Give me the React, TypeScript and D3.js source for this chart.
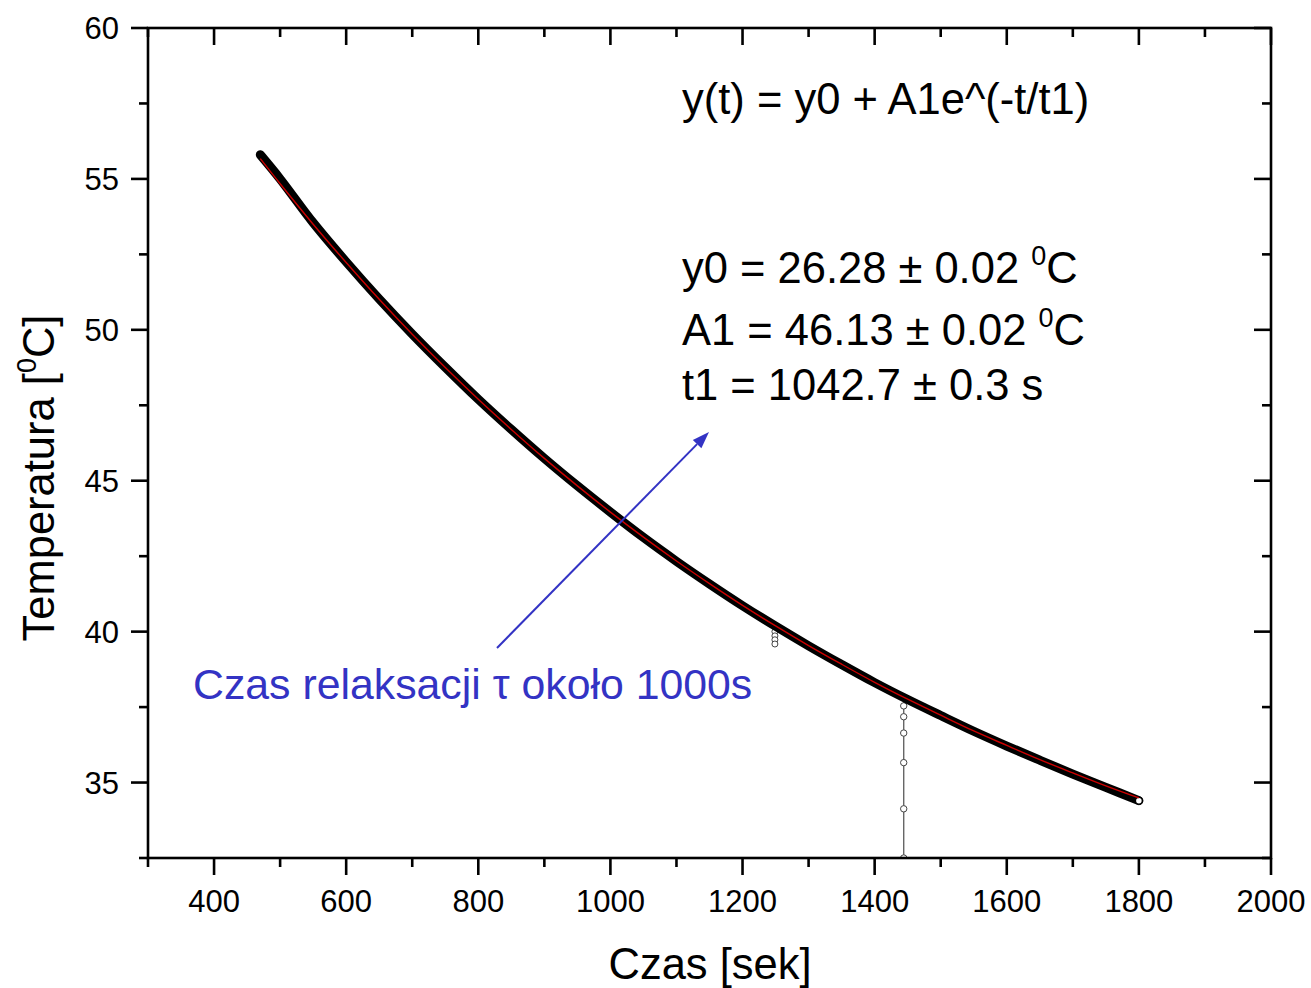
import React from 'react';
import * as d3 from 'd3';

const timeSec = [470, 500, 550, 600, 650, 700, 750, 800, 850, 900, 950, 1000, 1050, 1100, 1150, 1200, 1250, 1300, 1350, 1400, 1450, 1500, 1550, 1600, 1650, 1700, 1750, 1800];
const tempC = [55.8, 55.0, 53.55, 52.25, 51.02, 49.86, 48.76, 47.7, 46.7, 45.74, 44.83, 43.96, 43.12, 42.33, 41.58, 40.86, 40.18, 39.53, 38.91, 38.31, 37.75, 37.22, 36.7, 36.21, 35.74, 35.28, 34.84, 34.4];
// Fitted curve (red)
const fitTemp = [55.67, 54.84, 53.5, 52.23, 51.01, 49.85, 48.75, 47.7, 46.7, 45.74, 44.83, 43.96, 43.13, 42.34, 41.59, 40.87, 40.19, 39.54, 38.92, 38.32, 37.76, 37.23, 36.71, 36.23, 35.76, 35.32, 34.89, 34.49];

// Outlier excursions
const glitch1Time = 1249;
const glitch1Temps = [40.2, 40.0, 39.86, 39.73, 39.59];
const glitch2Time = 1444;
const glitch2Temps = [37.8, 37.54, 37.18, 36.64, 35.66, 34.13, 32.5, 30.5];

const xMajorTicks = [400, 600, 800, 1000, 1200, 1400, 1600, 1800, 2000];
const xMinorTicks = [300, 500, 700, 900, 1100, 1300, 1500, 1700, 1900];
const yMajorTicks = [35, 40, 45, 50, 55, 60];
const yMinorTicks = [32.5, 37.5, 42.5, 47.5, 52.5, 57.5];

const FONT = '"Liberation Sans", Arial, Helvetica, sans-serif';
const BLUE = '#3333c4';

export default function App() {
  const W = 1311, H = 988;
  const L = 148, R = 1271, T = 28, B = 858;
  const x = d3.scaleLinear().domain([300, 2000]).range([L, R]);
  const y = d3.scaleLinear().domain([32.5, 60]).range([B, T]);

  const pts: [number, number][] = timeSec.map((t, i) => [t, tempC[i]]);
  const fitPts: [number, number][] = timeSec.map((t, i) => [t, fitTemp[i]]);
  const line = d3.line<[number, number]>().x(d => x(d[0])).y(d => y(d[1])).curve(d3.curveCatmullRom);

  const major = 17, minor = 9;
  const axisW = 2.6;
  const TF = 43.5;

  // arrow geometry
  const ax1 = 497, ay1 = 648, ax2 = 709, ay2 = 432;
  const ang = Math.atan2(ay2 - ay1, ax2 - ax1);
  const hl = 17, hw = 6;
  const bx = ax2 - hl * Math.cos(ang), by = ay2 - hl * Math.sin(ang);
  const head = `${ax2},${ay2} ${bx + hw * Math.sin(ang)},${by - hw * Math.cos(ang)} ${bx - hw * Math.sin(ang)},${by + hw * Math.cos(ang)}`;

  return (
    <svg width={W} height={H} style={{ position: 'absolute', left: 0, top: 0, background: '#fff' }} fontFamily={FONT}>
      <defs>
        <clipPath id="plotclip">
          <rect x={L} y={T} width={R - L} height={B - T} />
        </clipPath>
      </defs>
      <rect x={0} y={0} width={W} height={H} fill="#fff" />

      {/* glitches */}
      <g clipPath="url(#plotclip)">
        <line x1={x(glitch1Time)} x2={x(glitch1Time)} y1={y(glitch1Temps[0])} y2={y(glitch1Temps[glitch1Temps.length - 1])} stroke="#666" strokeWidth={1.2} />
        {glitch1Temps.slice(1).map((v, i) => (
          <circle key={'g1' + i} cx={x(glitch1Time)} cy={y(v)} r={3} fill="#fff" stroke="#444" strokeWidth={1} />
        ))}
        <line x1={x(glitch2Time)} x2={x(glitch2Time)} y1={y(glitch2Temps[0])} y2={y(glitch2Temps[glitch2Temps.length - 1])} stroke="#666" strokeWidth={1.4} />
        {glitch2Temps.slice(1).map((v, i) => (
          <circle key={'g2' + i} cx={x(glitch2Time)} cy={y(v)} r={3.2} fill="#fff" stroke="#444" strokeWidth={1} />
        ))}
      </g>

      {/* measured data band */}
      <path d={line(pts) || ''} fill="none" stroke="#000" strokeWidth={9} strokeLinecap="round" strokeLinejoin="round" />
      <circle cx={x(timeSec[timeSec.length - 1])} cy={y(tempC[tempC.length - 1])} r={3.5} fill="#fff" stroke="#000" strokeWidth={1.5} />
      {/* fit */}
      <path d={line(fitPts) || ''} fill="none" stroke="#cc0000" strokeWidth={1.4} />

      {/* frame */}
      <rect x={L} y={T} width={R - L} height={B - T} fill="none" stroke="#000" strokeWidth={axisW} />

      {/* x ticks */}
      {xMajorTicks.map(t => (
        <g key={'xM' + t}>
          <line x1={x(t)} x2={x(t)} y1={B} y2={B + major} stroke="#000" strokeWidth={axisW} />
          <line x1={x(t)} x2={x(t)} y1={T} y2={T + major} stroke="#000" strokeWidth={axisW} />
          <text x={x(t)} y={912} fontSize={31} textAnchor="middle" fill="#000">{t}</text>
        </g>
      ))}
      {xMinorTicks.map(t => (
        <g key={'xm' + t}>
          <line x1={x(t)} x2={x(t)} y1={B} y2={B + minor} stroke="#000" strokeWidth={axisW} />
          <line x1={x(t)} x2={x(t)} y1={T} y2={T + minor} stroke="#000" strokeWidth={axisW} />
        </g>
      ))}

      {/* y ticks */}
      {yMajorTicks.map(v => (
        <g key={'yM' + v}>
          <line x1={L - major} x2={L} y1={y(v)} y2={y(v)} stroke="#000" strokeWidth={axisW} />
          <line x1={R - major} x2={R} y1={y(v)} y2={y(v)} stroke="#000" strokeWidth={axisW} />
          <text x={119} y={y(v)} dy="0.36em" fontSize={31} textAnchor="end" fill="#000">{v}</text>
        </g>
      ))}
      {yMinorTicks.map(v => (
        <g key={'ym' + v}>
          <line x1={L - minor} x2={L} y1={y(v)} y2={y(v)} stroke="#000" strokeWidth={axisW} />
          <line x1={R - minor} x2={R} y1={y(v)} y2={y(v)} stroke="#000" strokeWidth={axisW} />
        </g>
      ))}

      {/* axis titles */}
      <text x={710} y={979} fontSize={TF} textAnchor="middle" fill="#000">Czas [sek]</text>
      <text transform="translate(54,478) rotate(-90)" fontSize={TF} textAnchor="middle" fill="#000">
        Temperatura [<tspan fontSize={27} dy={-18}>0</tspan><tspan dy={18}>C]</tspan>
      </text>

      {/* equation and parameters */}
      <text x={682} y={114} fontSize={TF} fill="#000">y(t) = y0 + A1e^(-t/t1)</text>
      <text x={682} y={283} fontSize={TF} fill="#000">
        y0 = 26.28 ± 0.02 <tspan fontSize={27} dy={-18}>0</tspan><tspan dy={18}>C</tspan>
      </text>
      <text x={682} y={345} fontSize={TF} fill="#000">
        A1 = 46.13 ± 0.02 <tspan fontSize={27} dy={-18}>0</tspan><tspan dy={18}>C</tspan>
      </text>
      <text x={682} y={400} fontSize={TF} fill="#000">t1 = 1042.7 ± 0.3 s</text>

      {/* annotation */}
      <line x1={ax1} y1={ay1} x2={bx} y2={by} stroke={BLUE} strokeWidth={2} />
      <polygon points={head} fill={BLUE} />
      <text x={193} y={699} fontSize={42.8} fill={BLUE}>Czas relaksacji τ około 1000s</text>
    </svg>
  );
}
